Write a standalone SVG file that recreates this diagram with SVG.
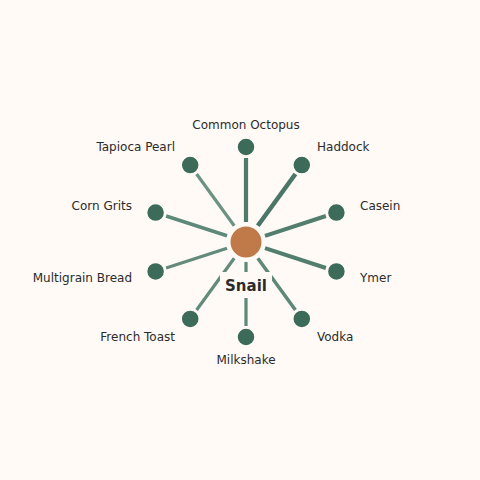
<svg xmlns="http://www.w3.org/2000/svg" width="480" height="480" viewBox="0 0 480 480">
<style>
.bg{fill:#fffaf6}
.node{fill:#3d6b5a;stroke:#fffaf6;stroke-width:1.5}
.hub{fill:#c07a4a;stroke:#fffaf6;stroke-width:2}
.lbl{font-family:"DejaVu Sans",sans-serif;font-size:12px;fill:#2b2b2b}
.title{font-family:"DejaVu Sans",sans-serif;font-size:15px;font-weight:bold;fill:#2b2b2b}
.e{stroke-linecap:butt;fill:none}
</style>
<rect class="bg" x="0" y="0" width="480" height="480"/>
<g id="connectors">
<line class="e" x1="246" y1="222" x2="246" y2="158" stroke="#4e7b6b" stroke-width="4.2"/>
<line class="e" x1="257.8" y1="225.8" x2="295.4" y2="174" stroke="#4a7767" stroke-width="4.5"/>
<line class="e" x1="265" y1="235.8" x2="325.9" y2="216" stroke="#527e6e" stroke-width="4"/>
<line class="e" x1="265" y1="248.2" x2="325.9" y2="268" stroke="#527e6e" stroke-width="4"/>
<line class="e" x1="257.8" y1="258.2" x2="295.4" y2="310" stroke="#5e8878" stroke-width="3.5"/>
<line class="e" x1="246" y1="262" x2="246" y2="326" stroke="#5e8878" stroke-width="3.2"/>
<line class="e" x1="234.2" y1="258.2" x2="196.6" y2="310" stroke="#628b7b" stroke-width="3.2"/>
<line class="e" x1="227" y1="248.2" x2="166.1" y2="268" stroke="#628b7b" stroke-width="3.2"/>
<line class="e" x1="227" y1="235.8" x2="166.1" y2="216" stroke="#5e8878" stroke-width="3.6"/>
<line class="e" x1="234.2" y1="225.8" x2="196.6" y2="174" stroke="#6b9383" stroke-width="3.2"/>
</g>
<g id="hub">
<circle class="hub" cx="246" cy="242" r="16.5"/>
<rect class="bg" x="220" y="272" width="52" height="26"/>
<text class="title" x="246" y="291" text-anchor="middle">Snail</text>
</g>
<g id="n-octopus"><circle class="node" cx="246" cy="147" r="9"/><text class="lbl" x="246" y="129" text-anchor="middle">Common Octopus</text></g>
<g id="n-haddock"><circle class="node" cx="301.8" cy="165.1" r="9"/><text class="lbl" x="317" y="151">Haddock</text></g>
<g id="n-casein"><circle class="node" cx="336.4" cy="212.6" r="9"/><text class="lbl" x="360" y="210">Casein</text></g>
<g id="n-ymer"><circle class="node" cx="336.4" cy="271.4" r="9"/><text class="lbl" x="360" y="282">Ymer</text></g>
<g id="n-vodka"><circle class="node" cx="301.8" cy="318.9" r="9"/><text class="lbl" x="317" y="341">Vodka</text></g>
<g id="n-milkshake"><circle class="node" cx="246" cy="337" r="9"/><text class="lbl" x="246" y="364" text-anchor="middle">Milkshake</text></g>
<g id="n-frenchtoast"><circle class="node" cx="190.2" cy="318.9" r="9"/><text class="lbl" x="175" y="341" text-anchor="end">French Toast</text></g>
<g id="n-multigrain"><circle class="node" cx="155.6" cy="271.4" r="9"/><text class="lbl" x="132" y="282" text-anchor="end">Multigrain Bread</text></g>
<g id="n-corngrits"><circle class="node" cx="155.6" cy="212.6" r="9"/><text class="lbl" x="132" y="210" text-anchor="end">Corn Grits</text></g>
<g id="n-tapioca"><circle class="node" cx="190.2" cy="165.1" r="9"/><text class="lbl" x="175" y="151" text-anchor="end">Tapioca Pearl</text></g>
</svg>
